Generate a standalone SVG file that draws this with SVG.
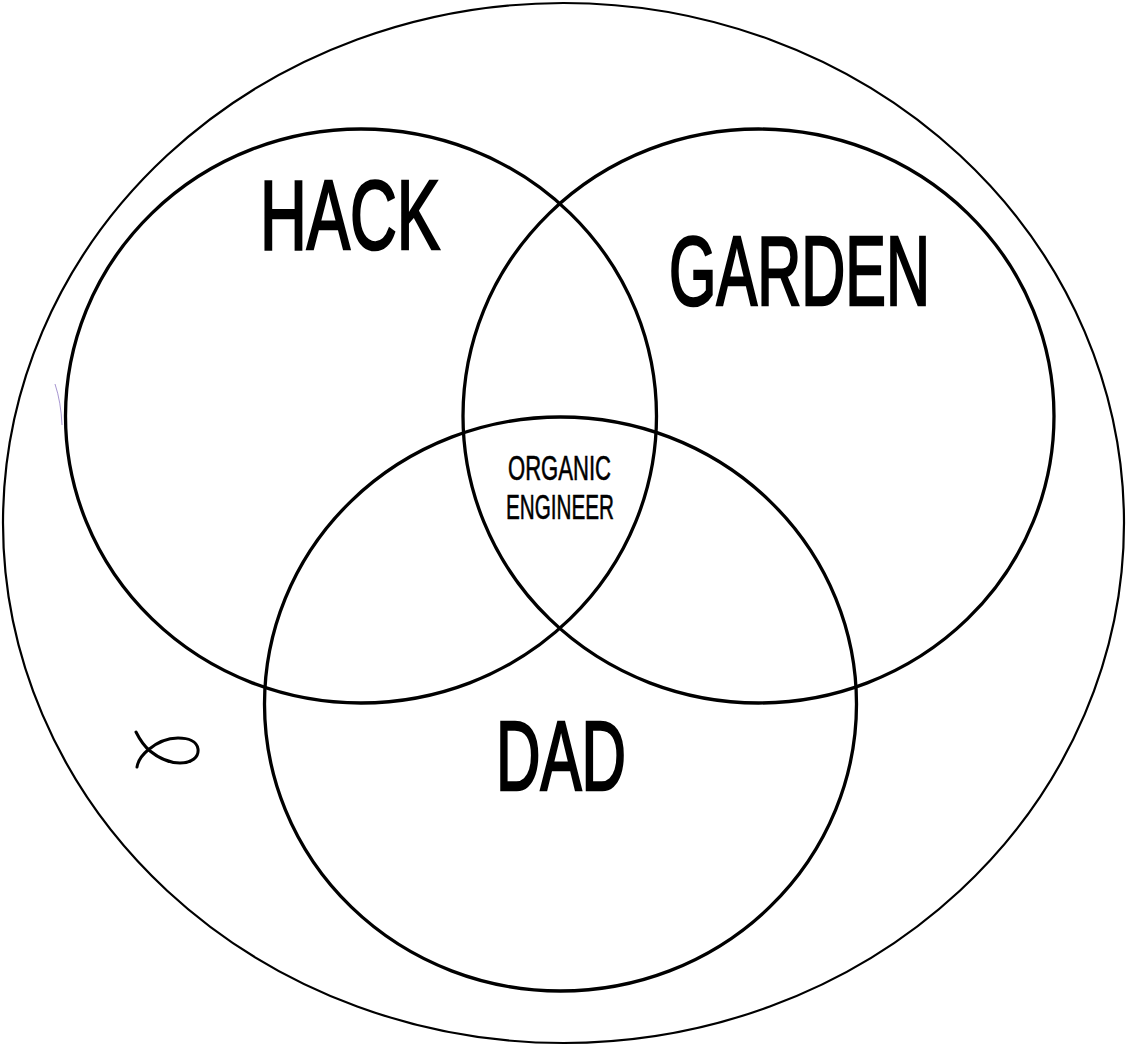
<svg xmlns="http://www.w3.org/2000/svg" width="1126" height="1046" viewBox="0 0 1126 1046">
<style>
.outer{fill:none;stroke:#000;stroke-width:2.2}
.set{fill:none;stroke:#000;stroke-width:3.3}
.big{font-family:"Liberation Sans",Arial,sans-serif;font-size:98px;fill:#000;stroke:#000;stroke-width:2.6;stroke-linejoin:miter}
.small{font-family:"Liberation Sans",Arial,sans-serif;font-size:35px;fill:#000;stroke:#000;stroke-width:0.6}
</style>
<rect width="1126" height="1046" fill="#fff"/>
<g id="universe">
<ellipse class="outer" cx="563.5" cy="523" rx="560.5" ry="520"/>
<path d="M55,384 Q61,402 62,425" fill="none" stroke="#6a4fb0" stroke-width="1" stroke-opacity="0.6"/>
<path d="M136,732 C140,740 144,746 150,751 C160,759 170,763 180,763 C192,763 199,757 198,749 C197,741 188,738 178,738 C165,738 155,744 148,750 C142,755 138,761 137,767" fill="none" stroke="#000" stroke-width="3" stroke-linecap="round"/>
</g>
<g id="connectors"></g>
<g id="hack">
<ellipse class="set" cx="361" cy="416" rx="295.5" ry="287"/>
<text class="big" x="260" y="249" textLength="180" lengthAdjust="spacingAndGlyphs">HACK</text>
</g>
<g id="garden">
<ellipse class="set" cx="758.5" cy="416" rx="295.5" ry="287"/>
<text class="big" x="669" y="305" textLength="261" lengthAdjust="spacingAndGlyphs">GARDEN</text>
</g>
<g id="dad">
<ellipse class="set" cx="560.5" cy="704" rx="296" ry="287"/>
<text class="big" x="496" y="790" textLength="130" lengthAdjust="spacingAndGlyphs">DAD</text>
</g>
<g id="organic-engineer">
<text class="small" x="508" y="480" textLength="103" lengthAdjust="spacingAndGlyphs">ORGANIC</text>
<text class="small" x="506" y="519" textLength="108" lengthAdjust="spacingAndGlyphs">ENGINEER</text>
</g>
</svg>
